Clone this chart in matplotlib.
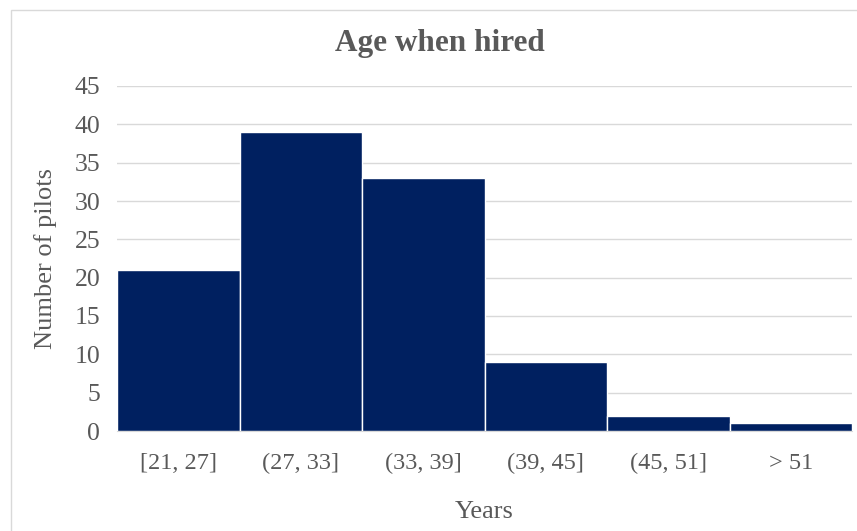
import matplotlib
matplotlib.use("Agg")
import matplotlib.pyplot as plt
from matplotlib.patches import Rectangle

categories = ["[21, 27]", "(27, 33]", "(33, 39]", "(39, 45]", "(45, 51]", "> 51"]
counts = [21, 39, 33, 9, 2, 1]
yticks = [0, 5, 10, 15, 20, 25, 30, 35, 40, 45]

plt.rcParams['font.family'] = ['Liberation Serif', 'DejaVu Serif']
txt = '#595959'

fig = plt.figure(figsize=(8.57, 5.31), dpi=100)
fig.patches.append(Rectangle((11/857, -0.05), 1.1, 1 - 10/531 + 0.05, transform=fig.transFigure,
                             fill=False, edgecolor='#d9d9d9', linewidth=1.0))
ax = fig.add_axes([117/857, 1 - 431/531, (852-117)/857, (431-86)/531])
x = list(range(len(categories)))
ax.bar(x, counts, width=1.0, color='#002060', edgecolor='white', linewidth=1.0, zorder=3)
ax.set_xlim(-0.5, len(categories) - 0.5)
ax.set_ylim(0, 45)
ax.set_yticks(yticks)
ax.set_xticks(x)
ax.set_xticklabels(categories)
ax.grid(axis='y', color='#d9d9d9', linewidth=1.0, zorder=0)
for s in ['top', 'right', 'left']:
    ax.spines[s].set_visible(False)
ax.spines['bottom'].set_color('#d9d9d9')
ax.tick_params(axis='both', length=0, colors=txt)
ax.tick_params(axis='x', pad=16, labelsize=17.5)
ax.tick_params(axis='y', pad=12, labelsize=18.5)
ax.set_xlabel('Years', fontsize=19, color=txt, labelpad=19)
ax.set_ylabel('Number of pilots', fontsize=19, color=txt, labelpad=13)
fig.text(440/857, 1 - 44/531, 'Age when hired', ha='center', va='center', fontsize=22.5,
         fontweight='bold', color=txt)
fig.savefig('out.png', dpi=100)
